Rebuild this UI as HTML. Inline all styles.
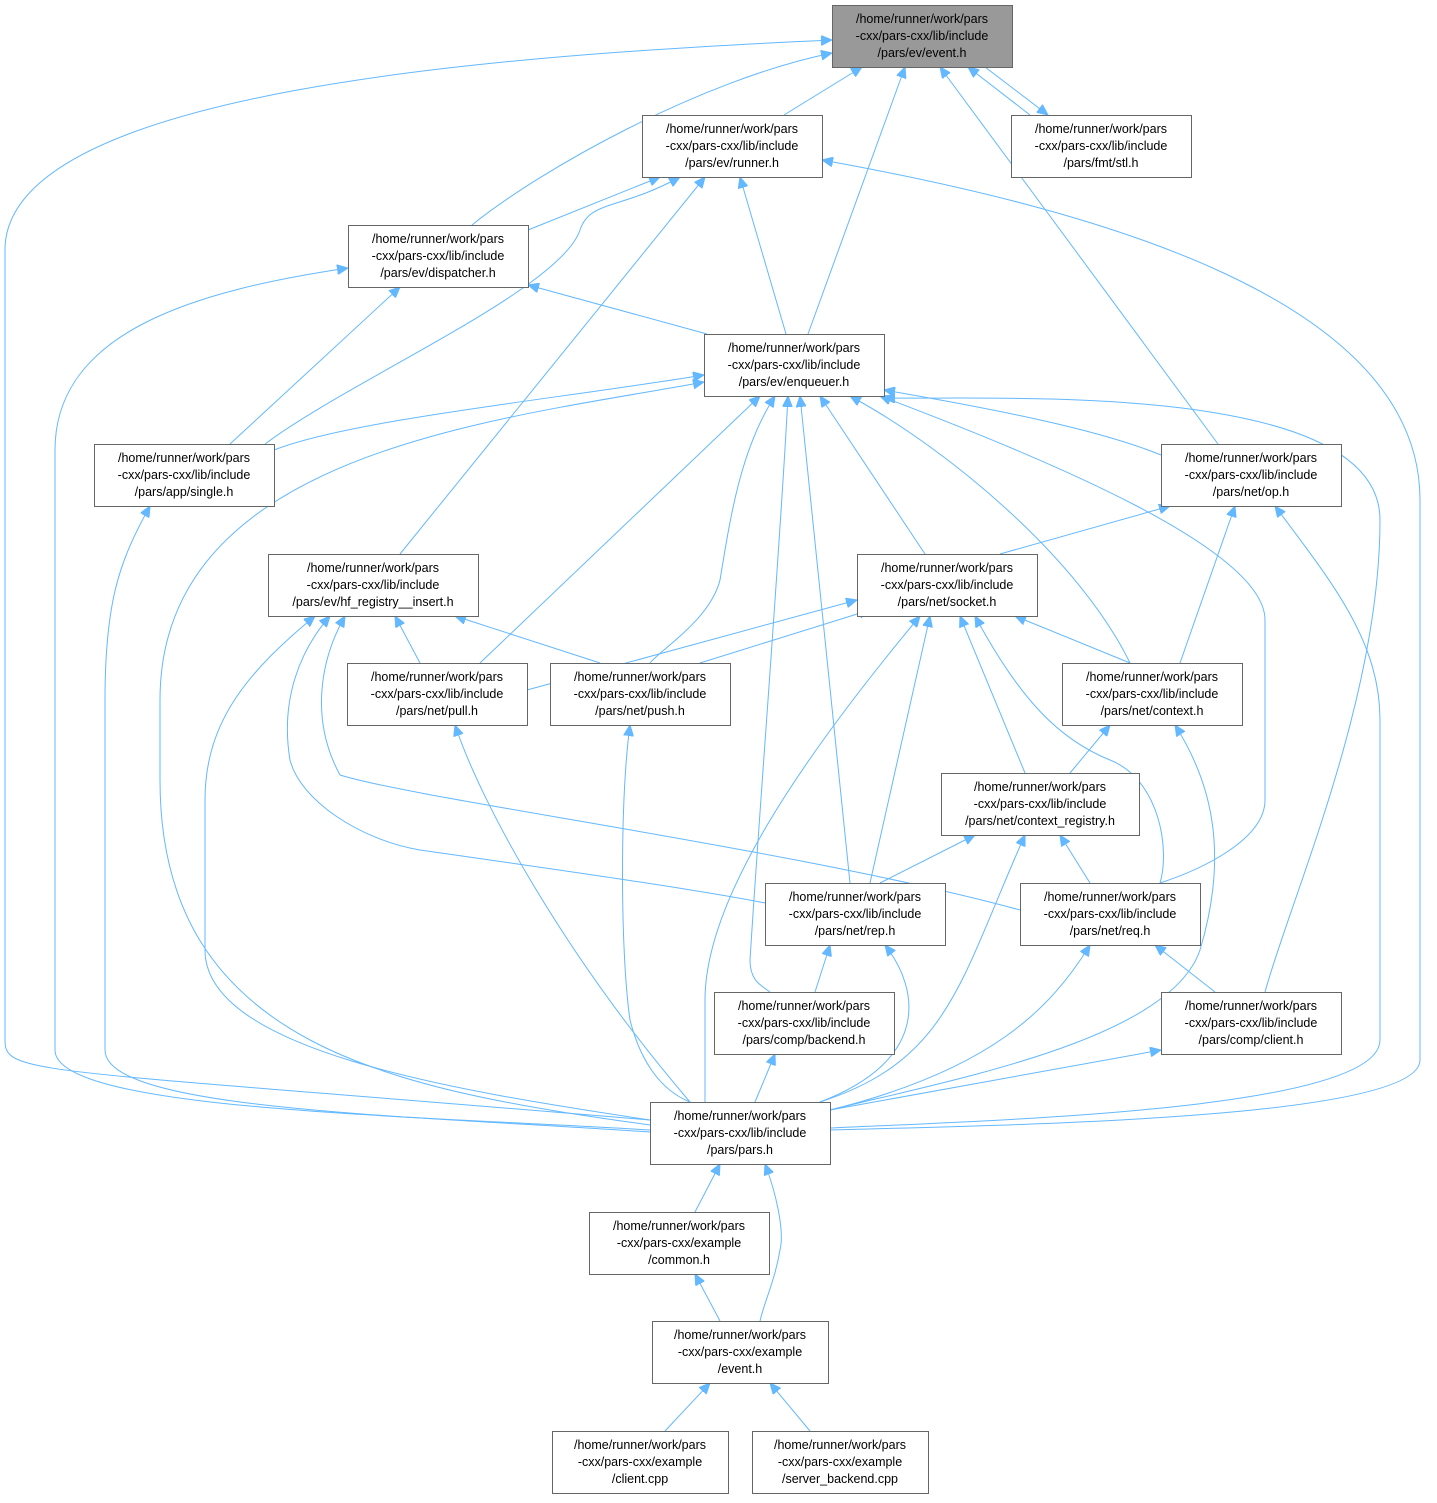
<!DOCTYPE html>
<html><head><meta charset="utf-8"><style>
html,body{margin:0;padding:0;background:#fff;}
svg text{font-family:"Liberation Sans",sans-serif;font-size:12.5px;fill:#000;text-anchor:middle;}
</style></head><body>
<svg width="1437" height="1498" viewBox="0 0 1437 1498" xmlns="http://www.w3.org/2000/svg">
<defs>
<marker id="a" markerWidth="12" markerHeight="10" refX="11" refY="5" orient="auto-start-reverse" markerUnits="userSpaceOnUse">
<path d="M0,0 L11,5 L0,10 z" fill="#63b8ff" stroke="#63b8ff"/>
</marker>
</defs>
<g fill="none" stroke="#63b8ff" stroke-width="1" marker-start="url(#a)">
<path d="M862,67 L784,115"/>
<path d="M968,67 L1030,115"/>
<path d="M985,67 L1048,115" marker-start="none" marker-end="url(#a)"/>
<path d="M832,53 C700,80 540,170 472,225"/>
<path d="M905,67 L808,334"/>
<path d="M940,67 L1218,444"/>
<path d="M832,40 C500,55 5,90 5,250 L5,1040 C5,1075 30,1068 650,1120"/>
<path d="M660,177 L528,230"/>
<path d="M680,177 C620,210 590,200 580,230 C560,290 350,380 265,444"/>
<path d="M705,177 L400,554"/>
<path d="M740,177 L786,334"/>
<path d="M822,160 C1100,210 1420,300 1420,500 L1420,1060 C1420,1120 1000,1125 830,1130"/>
<path d="M528,285 L707,334"/>
<path d="M400,287 L230,444"/>
<path d="M348,268 C200,290 55,330 55,450 L55,1050 C55,1110 400,1115 650,1130"/>
<path d="M704,375 C550,400 350,420 274,450"/>
<path d="M704,382 C500,420 160,450 160,700 L160,780 C160,1050 400,1090 650,1125"/>
<path d="M760,396 L480,663"/>
<path d="M775,396 C740,450 730,520 720,580 C710,620 660,650 650,663"/>
<path d="M788,396 C780,550 760,800 750,960 C750,980 760,985 770,992"/>
<path d="M800,396 L850,883"/>
<path d="M820,396 L925,554"/>
<path d="M850,396 C950,450 1080,560 1130,663"/>
<path d="M880,396 C1050,460 1265,550 1265,620 L1265,800 C1265,840 1200,870 1160,883"/>
<path d="M884,390 C1000,410 1100,430 1161,455"/>
<path d="M884,398 C1000,400 1380,380 1380,520 C1380,700 1290,900 1265,992"/>
<path d="M1170,506 L1000,554"/>
<path d="M1235,506 L1180,663"/>
<path d="M1275,506 C1330,580 1380,640 1380,720 L1380,1040 C1380,1110 1000,1120 830,1128"/>
<path d="M150,506 C120,560 105,600 105,700 L105,1050 C105,1110 400,1115 650,1132"/>
<path d="M395,616 L420,663"/>
<path d="M455,616 L600,663"/>
<path d="M315,616 C250,670 205,720 205,800 L205,950 C205,1050 450,1090 650,1120"/>
<path d="M330,616 C300,650 280,700 290,760 C300,800 360,840 420,850 C560,870 700,890 765,903"/>
<path d="M345,616 C320,660 310,720 340,775 C420,800 800,850 1020,910"/>
<path d="M857,600 L527,690"/>
<path d="M870,610 L700,663"/>
<path d="M1015,616 L1130,663"/>
<path d="M960,616 L1025,773"/>
<path d="M930,616 L870,883"/>
<path d="M975,616 C1020,700 1060,740 1110,760 C1160,780 1170,850 1160,883"/>
<path d="M920,616 C800,760 705,900 705,1000 L705,1102"/>
<path d="M455,725 C480,800 560,950 690,1102"/>
<path d="M630,725 C620,800 620,950 630,1020 C640,1060 660,1090 690,1102"/>
<path d="M1110,725 L1070,773"/>
<path d="M1175,725 C1210,780 1230,850 1200,950 C1170,1040 950,1080 830,1110"/>
<path d="M975,835 L880,883"/>
<path d="M1060,835 L1090,883"/>
<path d="M1025,835 C960,980 950,1060 820,1102"/>
<path d="M830,945 L815,992"/>
<path d="M885,945 C920,990 930,1060 820,1102"/>
<path d="M1090,945 C1050,1010 990,1070 830,1110"/>
<path d="M1155,945 L1215,992"/>
<path d="M775,1054 L755,1102"/>
<path d="M1161,1050 L830,1110"/>
<path d="M720,1164 L695,1212"/>
<path d="M765,1164 C775,1190 785,1230 780,1250 C775,1280 765,1300 760,1321"/>
<path d="M695,1274 L720,1321"/>
<path d="M710,1383 L665,1431"/>
<path d="M770,1383 L810,1431"/>
</g>
<g stroke="#666" stroke-width="1" fill="#fff">
<rect x="832.5" y="5.5" width="180" height="62" fill="#999"/>
<rect x="642.5" y="115.5" width="180" height="62"/>
<rect x="1011.5" y="115.5" width="180" height="62"/>
<rect x="348.5" y="225.5" width="180" height="62"/>
<rect x="704.5" y="334.5" width="180" height="62"/>
<rect x="94.5" y="444.5" width="180" height="62"/>
<rect x="1161.5" y="444.5" width="180" height="62"/>
<rect x="268.5" y="554.5" width="210" height="62"/>
<rect x="857.5" y="554.5" width="180" height="62"/>
<rect x="347.5" y="663.5" width="180" height="62"/>
<rect x="550.5" y="663.5" width="180" height="62"/>
<rect x="1062.5" y="663.5" width="180" height="62"/>
<rect x="941.5" y="773.5" width="198" height="62"/>
<rect x="765.5" y="883.5" width="180" height="62"/>
<rect x="1020.5" y="883.5" width="180" height="62"/>
<rect x="714.5" y="992.5" width="180" height="62"/>
<rect x="1161.5" y="992.5" width="180" height="62"/>
<rect x="650.5" y="1102.5" width="180" height="62"/>
<rect x="589.5" y="1212.5" width="180" height="62"/>
<rect x="652.5" y="1321.5" width="176" height="62"/>
<rect x="552.5" y="1431.5" width="176" height="62"/>
<rect x="752.5" y="1431.5" width="176" height="62"/>
</g>
<g>
<text x="922" y="23">/home/runner/work/pars</text><text x="922" y="40">-cxx/pars-cxx/lib/include</text><text x="922" y="57">/pars/ev/event.h</text>
<text x="732" y="133">/home/runner/work/pars</text><text x="732" y="150">-cxx/pars-cxx/lib/include</text><text x="732" y="167">/pars/ev/runner.h</text>
<text x="1101" y="133">/home/runner/work/pars</text><text x="1101" y="150">-cxx/pars-cxx/lib/include</text><text x="1101" y="167">/pars/fmt/stl.h</text>
<text x="438" y="243">/home/runner/work/pars</text><text x="438" y="260">-cxx/pars-cxx/lib/include</text><text x="438" y="277">/pars/ev/dispatcher.h</text>
<text x="794" y="352">/home/runner/work/pars</text><text x="794" y="369">-cxx/pars-cxx/lib/include</text><text x="794" y="386">/pars/ev/enqueuer.h</text>
<text x="184" y="462">/home/runner/work/pars</text><text x="184" y="479">-cxx/pars-cxx/lib/include</text><text x="184" y="496">/pars/app/single.h</text>
<text x="1251" y="462">/home/runner/work/pars</text><text x="1251" y="479">-cxx/pars-cxx/lib/include</text><text x="1251" y="496">/pars/net/op.h</text>
<text x="373" y="572">/home/runner/work/pars</text><text x="373" y="589">-cxx/pars-cxx/lib/include</text><text x="373" y="606">/pars/ev/hf_registry__insert.h</text>
<text x="947" y="572">/home/runner/work/pars</text><text x="947" y="589">-cxx/pars-cxx/lib/include</text><text x="947" y="606">/pars/net/socket.h</text>
<text x="437" y="681">/home/runner/work/pars</text><text x="437" y="698">-cxx/pars-cxx/lib/include</text><text x="437" y="715">/pars/net/pull.h</text>
<text x="640" y="681">/home/runner/work/pars</text><text x="640" y="698">-cxx/pars-cxx/lib/include</text><text x="640" y="715">/pars/net/push.h</text>
<text x="1152" y="681">/home/runner/work/pars</text><text x="1152" y="698">-cxx/pars-cxx/lib/include</text><text x="1152" y="715">/pars/net/context.h</text>
<text x="1040" y="791">/home/runner/work/pars</text><text x="1040" y="808">-cxx/pars-cxx/lib/include</text><text x="1040" y="825">/pars/net/context_registry.h</text>
<text x="855" y="901">/home/runner/work/pars</text><text x="855" y="918">-cxx/pars-cxx/lib/include</text><text x="855" y="935">/pars/net/rep.h</text>
<text x="1110" y="901">/home/runner/work/pars</text><text x="1110" y="918">-cxx/pars-cxx/lib/include</text><text x="1110" y="935">/pars/net/req.h</text>
<text x="804" y="1010">/home/runner/work/pars</text><text x="804" y="1027">-cxx/pars-cxx/lib/include</text><text x="804" y="1044">/pars/comp/backend.h</text>
<text x="1251" y="1010">/home/runner/work/pars</text><text x="1251" y="1027">-cxx/pars-cxx/lib/include</text><text x="1251" y="1044">/pars/comp/client.h</text>
<text x="740" y="1120">/home/runner/work/pars</text><text x="740" y="1137">-cxx/pars-cxx/lib/include</text><text x="740" y="1154">/pars/pars.h</text>
<text x="679" y="1230">/home/runner/work/pars</text><text x="679" y="1247">-cxx/pars-cxx/example</text><text x="679" y="1264">/common.h</text>
<text x="740" y="1339">/home/runner/work/pars</text><text x="740" y="1356">-cxx/pars-cxx/example</text><text x="740" y="1373">/event.h</text>
<text x="640" y="1449">/home/runner/work/pars</text><text x="640" y="1466">-cxx/pars-cxx/example</text><text x="640" y="1483">/client.cpp</text>
<text x="840" y="1449">/home/runner/work/pars</text><text x="840" y="1466">-cxx/pars-cxx/example</text><text x="840" y="1483">/server_backend.cpp</text>
</g>
</svg>
</body></html>
